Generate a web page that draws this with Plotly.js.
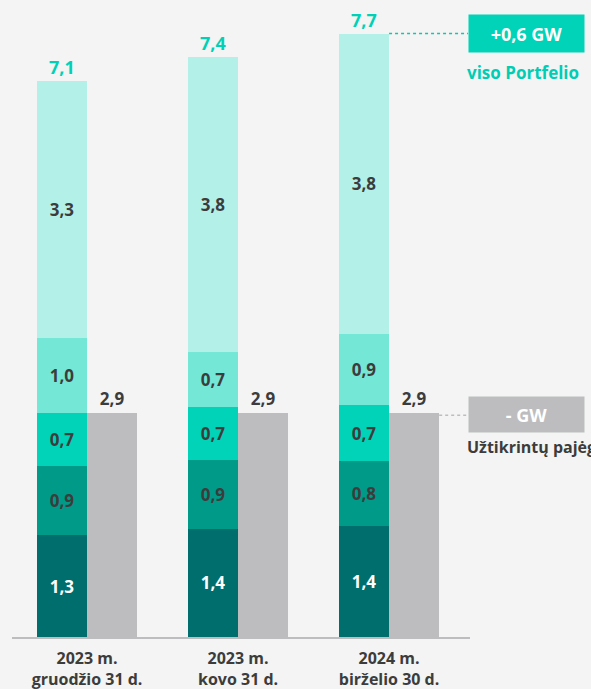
<!DOCTYPE html>
<html>
<head>
<meta charset="utf-8">
<script src="https://cdn.plot.ly/plotly-3.0.1.min.js"></script>
<style>
html,body{margin:0;padding:0;background:#f3f4f3;overflow:hidden;}
#chart{width:591px;height:689px;}
</style>
</head>
<body>
<div id="chart"></div>
<script>
// Categories (x tick labels)
const categories = ["2023 m.<br>gruodžio 31 d.", "2023 m.<br>kovo 31 d.", "2024 m.<br>birželio 30 d."];
// Stacked segments (GW), bottom to top
const seg1 = [1.30, 1.38, 1.42];
const seg2 = [0.88, 0.88, 0.82];
const seg3 = [0.68, 0.68, 0.72];
const seg4 = [0.96, 0.70, 0.90];
const seg5 = [3.28, 3.76, 3.84];
// Totals
const totals = [7.1, 7.4, 7.7];
const totalLabels = ["7,1", "7,4", "7,7"];
// Secured capacity (grey bars)
const secured = [2.86, 2.86, 2.86];

const FONT = "'Open Sans', sans-serif";
const DARK = "#3c3c3c";
const idx = [0, 1, 2];
const xs = idx.map(i => i - 0.166);
const xg = idx.map(i => i + 0.166);
const W = 0.332;

function segTrace(vals, color, txtColor) {
  return {
    type: "bar", x: xs, y: vals, width: W,
    marker: {color: color, line: {width: 0}},
    texttemplate: "%{y:.1f}", textposition: "inside", insidetextanchor: "middle",
    textangle: 0, constraintext: "none",
    textfont: {family: FONT, size: 17, color: txtColor, weight: "bold"},
    hoverinfo: "skip", showlegend: false
  };
}

const data = [
  segTrace(seg1, "#006e6c", "#ffffff"),
  segTrace(seg2, "#009a88", DARK),
  segTrace(seg3, "#00d3b8", DARK),
  segTrace(seg4, "#74e7d7", DARK),
  segTrace(seg5, "#b3f1e8", DARK),
  {
    type: "bar", x: xg, y: secured, width: W,
    marker: {color: "#bdbdbf", line: {width: 0}},
    texttemplate: "%{y:.1f}", textposition: "outside", cliponaxis: false,
    textfont: {family: FONT, size: 17, color: DARK, weight: "bold"},
    hoverinfo: "skip", showlegend: false
  }
];

const annotations = idx.map(i => ({
  x: xs[i], y: totals[i], xref: "x", yref: "y",
  text: totalLabels[i], showarrow: false, yanchor: "bottom", yshift: 0,
  font: {family: FONT, size: 18, color: "#00d1b6", weight: "bold"}
}));

const boxX = 2.523;
annotations.push(
  {x: boxX, y: totals[2], xref: "x", yref: "y", xanchor: "left", yanchor: "middle",
   text: "+0,6 GW", showarrow: false, bgcolor: "#00d3b8", width: 113, height: 35,
   font: {family: FONT, size: 18, color: "#ffffff", weight: "bold"}},
  {x: boxX, y: totals[2], xref: "x", yref: "y", xanchor: "left", yanchor: "top", yshift: -25,
   text: "viso Portfelio", showarrow: false, align: "left", xshift: -3,
   font: {family: FONT, size: 17, color: "#00cdb4", weight: "bold"}},
  {x: boxX, y: secured[2], xref: "x", yref: "y", xanchor: "left", yanchor: "middle", yshift: -2,
   text: "- GW", showarrow: false, bgcolor: "#bdbdbf", width: 113, height: 33,
   font: {family: FONT, size: 18, color: "#ffffff", weight: "bold"}},
  {x: boxX, y: secured[2], xref: "x", yref: "y", xanchor: "left", yanchor: "top", yshift: -21,
   text: "Užtikrintų pajėgumų", showarrow: false, align: "left", xshift: -3,
   font: {family: FONT, size: 16, color: DARK, weight: "bold"}}
);

const shapes = [
  {type: "line", xref: "x", yref: "y", x0: 2.0, x1: boxX, y0: totals[2], y1: totals[2],
   line: {color: "#00cdb4", width: 1.5, dash: "dot"}},
  {type: "line", xref: "x", yref: "y", x0: 2.332, x1: boxX, y0: secured[2] - 0.03, y1: secured[2] - 0.03,
   line: {color: "#bdbdbf", width: 1.5, dash: "dot"}}
];

const layout = {
  width: 591, height: 689,
  margin: {l: 12, r: 121, t: 10, b: 52},
  paper_bgcolor: "#f3f4f3", plot_bgcolor: "#f3f4f3",
  barmode: "stack", bargap: 0,
  separators: ",.",
  font: {family: FONT, color: DARK},
  xaxis: {
    range: [-0.497, 2.536], tickvals: idx, ticktext: categories,
    showgrid: false, zeroline: false, showline: true, linecolor: "#bdbdbf", linewidth: 2,
    ticks: "", fixedrange: true, ticklabelstandoff: 6,
    tickfont: {family: FONT, size: 16, color: DARK, weight: "bold"}
  },
  yaxis: {range: [0, 8], visible: false, showgrid: false, zeroline: false, fixedrange: true},
  annotations: annotations,
  shapes: shapes
};

Plotly.newPlot("chart", data, layout, {displayModeBar: false, staticPlot: true});
</script>
</body>
</html>
